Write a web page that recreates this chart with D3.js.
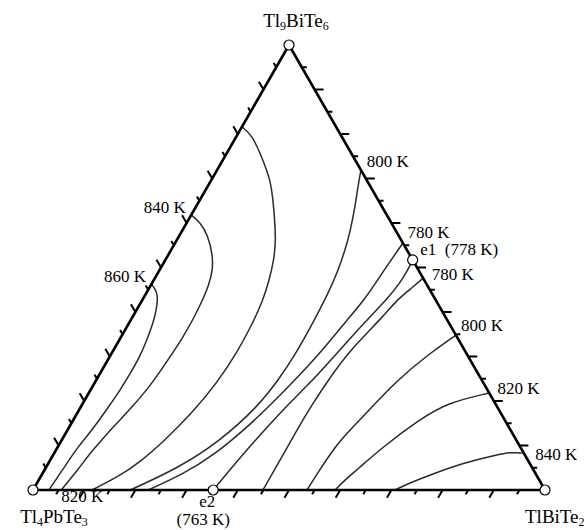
<!DOCTYPE html>
<html>
<head>
<meta charset="utf-8">
<script src="https://cdn.jsdelivr.net/npm/d3@7"></script>
<style>
  body { margin: 0; background: #fff; }
  text { font-family: "Liberation Serif", "Times New Roman", serif; fill: #000; }
</style>
</head>
<body>
<div id="chart"></div>
<script>
(function(){

// compositions in mol %: [TlBiTe2, Tl9BiTe6], the rest is Tl4PbTe3
var vertices = ["Tl4PbTe3", "TlBiTe2", "Tl9BiTe6"];

var iso860 = [[0,46.3],[2,44.5],[3,42.7],[4,40],[4.7,37.5],[5.4,33.7],[5.9,29.9],[5.9,26.1],[5.8,22.5],[5.4,18.6],[5,15],[4.5,12.1],[4,9.7],[3.7,7.2],[3.5,4.5],[3.3,2.2],[3.1,0]];
var iso840 = [[0,61.8],[2.5,60.2],[5.5,57.3],[8.7,52.8],[10.4,49.4],[11.3,46.1],[11.8,42.7],[12.1,38.2],[12.1,34.4],[11.9,30.8],[11.5,26.5],[11,22.5],[9.9,18.2],[8.6,14.2],[7.7,10.8],[7,8.3],[6.5,4.5],[5.5,0]];
var iso820 = [[0,81.6],[2.9,79.8],[7.8,74.2],[11.5,69.7],[14.3,65.2],[19.4,56.2],[21.2,51.7],[22.6,47],[23.6,42.7],[24.2,37],[24.4,30.8],[23.9,24],[22.4,17.3],[20.2,11.2],[17.8,6.3],[15.1,2.9],[11.5,0]];
var iso800a = [[28.1,71.9],[29.4,68.1],[31.1,63.6],[33,57.8],[34,53.9],[34.9,49.4],[35.5,44.9],[35.9,37.5],[36,30.8],[35.6,25],[34.5,18.6],[31,11],[26,5],[19,0]];
var iso780a = [[44.5,55.5],[43.8,48.8],[43.4,42.7],[42.2,38.2],[40.7,30.8],[38.8,24.7],[36.8,19],[34.5,13.5],[31.5,8],[27.5,3.5],[22.5,0]];
var valley = [[48.3,51.7],[48.5,49.4],[48.4,46.5],[47.8,43.2],[46.1,38.2],[44,30.8],[42.1,24],[40,18.7],[38.2,12.5],[36.6,6.5],[35.2,0]];
var iso780b = [[52.4,47.6],[51.4,45.6],[49.7,42.7],[48.9,38.9],[46.4,32.1],[45.4,25.8],[44.9,19.1],[44.8,13.5],[44.9,6.7],[44.9,0]];
var iso800b = [[65.2,34.8],[62.2,30.8],[58.7,24.7],[56,15.7],[54.1,10.6],[53.6,2.3],[53.5,0]];
var iso820b = [[78.2,21.8],[71.1,19.6],[67.5,15.7],[63.5,9.7],[61,4.5],[59.8,2.3],[59,0]];
var iso840b = [[91.9,8.3],[88.9,8.5],[86.7,7.9],[81,6.1],[75.9,3.4],[72.8,1.6],[70.7,0]];

var curves = [iso860, iso840, iso820, iso800a, iso780a, valley, iso780b, iso800b, iso820b, iso840b];

// eutectic points
var e1 = [48.3, 51.7];
var e2 = [35.2, 0];

// labels along the TlBiTe2 - Tl9BiTe6 side, by Tl9BiTe6 %
var rightLabels = ["800 K", "780 K", "e1  (778 K)", "780 K", "800 K", "820 K", "840 K"];
var rightLabelPos = [73.9, 58, 54.2, 48.5, 37.1, 22.9, 8.1];
// labels along the Tl4PbTe3 - Tl9BiTe6 side
var leftLabels = ["840 K", "860 K"];
var leftLabelPos = [63.6, 48.1];
// labels along the Tl4PbTe3 - TlBiTe2 side, by TlBiTe2 %
var bottomLabels = ["820 K"];
var bottomLabelPos = [9.6];

var ticks = d3.range(5, 100, 5);

var W = 587, H = 530;
var svg = d3.select("#chart").append("svg")
    .attr("width", W)
    .attr("height", H);

var x = d3.scaleLinear().domain([0, 100]).range([33, 545]);
var y = d3.scaleLinear().domain([0, 100]).range([490, 45]);

function px(d) { return x(d[0] + d[1] / 2); }
function py(d) { return y(d[1]); }

var line = d3.line()
    .x(px).y(py)
    .curve(d3.curveBasis);

// isotherms
svg.selectAll("path.iso")
    .data(curves).enter()
    .append("path")
      .attr("class", "iso")
      .attr("d", line)
      .attr("fill", "none")
      .attr("stroke", "#2a2a2a")
      .attr("stroke-width", 1.5);

// ticks: bottom parallel to left side, right side horizontal, left parallel to right side
var tickData = [];
ticks.forEach(function(t, i) {
  var len = (i % 2 == 1) ? 9 : 5;
  tickData.push({p: [t, 0], dx: -0.5, dy: 0.866, len: len});
  tickData.push({p: [100 - t, t], dx: 1, dy: 0, len: len});
  tickData.push({p: [0, t], dx: -0.5, dy: -0.866, len: len});
});

svg.selectAll("line.tick")
    .data(tickData).enter()
    .append("line")
      .attr("x1", function(d) { return px(d.p); })
      .attr("y1", function(d) { return py(d.p); })
      .attr("x2", function(d) { return px(d.p) + d.dx * d.len; })
      .attr("y2", function(d) { return py(d.p) + d.dy * d.len; })
      .attr("stroke", "#000")
      .attr("stroke-width", 2);

// triangle
svg.append("path")
    .attr("d", d3.line().x(px).y(py)([[0,0],[100,0],[0,100]]) + "Z")
    .attr("fill", "none")
    .attr("stroke", "#000")
    .attr("stroke-width", 2.6)
    .attr("stroke-linejoin", "round");

// vertex and eutectic circles
svg.selectAll("circle")
    .data([[0,0],[100,0],[0,100], e1, e2]).enter()
    .append("circle")
      .attr("cx", px)
      .attr("cy", py)
      .attr("r", 5)
      .attr("fill", "#fff")
      .attr("stroke", "#000")
      .attr("stroke-width", 1.2);

// formula with subscripted digits
function formula(sel, s, size) {
  s.match(/\d+|\D+/g).forEach(function(part, k) {
    if (/\d/.test(part)) {
      sel.append("tspan").attr("font-size", Math.round(size * 0.62)).attr("dy", 3).text(part);
    } else {
      var ts = sel.append("tspan").text(part);
      if (k > 0) ts.attr("dy", -3);
    }
  });
}

var vertexPos = [[0,0],[100,0],[0,100]];
var vertexAnchor = ["middle", "start", "middle"];
var vertexShift = [[21, 33], [-20, 33], [7, -18]];
var vertexSize = [19, 19, 19];
vertices.forEach(function(v, i) {
  var t = svg.append("text")
      .attr("x", px(vertexPos[i]) + vertexShift[i][0])
      .attr("y", py(vertexPos[i]) + vertexShift[i][1])
      .attr("font-size", vertexSize[i])
      .attr("text-anchor", vertexAnchor[i]);
  formula(t, v, vertexSize[i]);
});

rightLabels.forEach(function(s, i) {
  var c = rightLabelPos[i];
  svg.append("text")
      .attr("x", px([100 - c, c]) + (s[0] == "e" ? 14 : 11))
      .attr("y", py([100 - c, c]) + 6)
      .attr("font-size", 17)
      .attr("xml:space", "preserve")
      .text(s);
});

leftLabels.forEach(function(s, i) {
  var c = leftLabelPos[i];
  svg.append("text")
      .attr("x", px([0, c]) - 10)
      .attr("y", py([0, c]) + 6)
      .attr("font-size", 17)
      .attr("text-anchor", "end")
      .text(s);
});

bottomLabels.forEach(function(s, i) {
  svg.append("text")
      .attr("x", px([bottomLabelPos[i], 0]))
      .attr("y", py([bottomLabelPos[i], 0]) + 12)
      .attr("font-size", 17)
      .attr("text-anchor", "middle")
      .text(s);
});

svg.append("text")
    .attr("x", px(e2) - 6)
    .attr("y", py(e2) + 17)
    .attr("font-size", 17)
    .attr("text-anchor", "middle")
    .text("e2");
svg.append("text")
    .attr("x", px(e2) - 10)
    .attr("y", py(e2) + 35)
    .attr("font-size", 17)
    .attr("text-anchor", "middle")
    .text("(763 K)");

})()
</script>
</body>
</html>
